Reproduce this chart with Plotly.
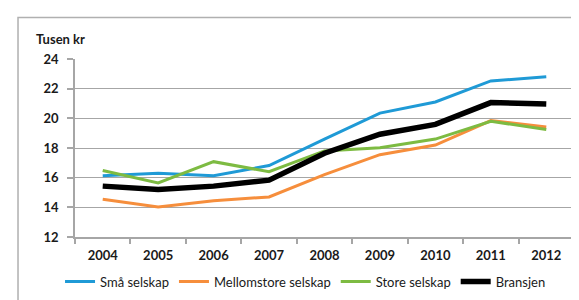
import plotly.graph_objects as go

years = ["2004", "2005", "2006", "2007", "2008", "2009", "2010", "2011", "2012"]
sma = [16.13, 16.3, 16.13, 16.82, 18.6, 20.35, 21.1, 22.52, 22.8]
mellomstore = [14.54, 14.02, 14.45, 14.7, 16.2, 17.55, 18.2, 19.85, 19.42]
store = [16.48, 15.65, 17.08, 16.4, 17.8, 18.02, 18.6, 19.8, 19.25]
bransjen = [15.43, 15.2, 15.43, 15.83, 17.65, 18.93, 19.59, 21.06, 20.96]

y_ticks = [12, 14, 16, 18, 20, 22, 24]

series = [
    ("Små selskap", sma, "#1f9ad6", 3),
    ("Mellomstore selskap", mellomstore, "#f68e3c", 3),
    ("Store selskap", store, "#7dbb42", 3),
    ("Bransjen", bransjen, "#000000", 5.5),
]

fig = go.Figure()
for name, vals, color, w in series:
    fig.add_trace(go.Scatter(x=years, y=vals, name=name, mode="lines",
                             line=dict(color=color, width=w)))

font_fam = "Lato, Open Sans, sans-serif"
fig.update_layout(
    width=579, height=300,
    margin=dict(l=67, r=13, t=51, b=65),
    paper_bgcolor="white", plot_bgcolor="white",
    font=dict(family=font_fam, size=12, color="#1a1a1a"),
    showlegend=True,
    legend=dict(orientation="h", x=-0.03, xanchor="left", y=-0.25, yanchor="middle",
                font=dict(size=13, color="#1a1a1a"), itemwidth=30,
                tracegroupgap=0, bgcolor="rgba(0,0,0,0)"),
    xaxis=dict(type="category", range=[-0.5, 8.5], showgrid=False, showline=True,
               linecolor="#a6a6a6", linewidth=1.5, ticks="outside", tickson="boundaries",
               ticklen=5, tickcolor="#a6a6a6", tickwidth=1.5, ticklabelstandoff=6,
               tickfont=dict(family=font_fam, size=13, color="#1a1a1a", weight="bold")),
    yaxis=dict(range=[12, 24], tickvals=y_ticks, showgrid=True, gridcolor="#a6a6a6",
               gridwidth=1.2, showline=True, linecolor="#a6a6a6", linewidth=1.5,
               ticks="outside", ticklen=6, tickcolor="#a6a6a6", tickwidth=1.5,
               zeroline=False, ticklabelstandoff=6,
               tickfont=dict(family=font_fam, size=13, color="#1a1a1a", weight="bold")),
    annotations=[dict(text="<b>Tusen kr</b>", xref="paper", yref="paper",
                      x=-0.082, y=1.11, xanchor="left", yanchor="middle",
                      showarrow=False, font=dict(family=font_fam, size=13, color="#1a1a1a"))],
    shapes=[dict(type="rect", xref="paper", yref="paper", x0=-0.1142, x1=1.2,
                 y0=-0.6, y1=1.2337, line=dict(color="#b0b0b0", width=1.5),
                 fillcolor="rgba(0,0,0,0)", layer="below")],
)

fig.write_html("out.html")
